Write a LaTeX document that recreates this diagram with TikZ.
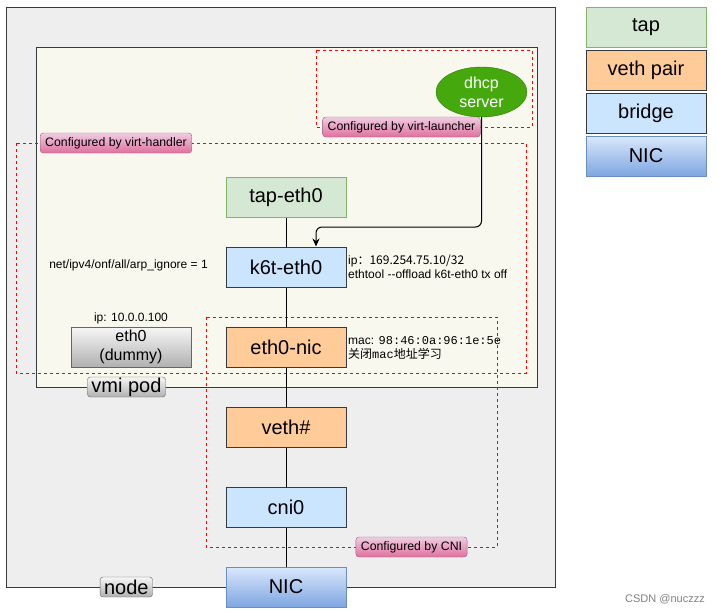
\documentclass[tikz,border=0pt]{standalone}
\usepackage{fontspec}
\setmainfont{Liberation Sans}
\setmonofont{Liberation Mono}
\newfontfamily\cjk{Noto Sans CJK SC}
\usetikzlibrary{arrows.meta,shapes.geometric}

\definecolor{nodebg}{HTML}{EEEEEE}
\definecolor{podbg}{HTML}{F9F8EE}
\definecolor{frame}{HTML}{36393D}
\definecolor{tapfill}{HTML}{D5E8D4}
\definecolor{tapline}{HTML}{82B366}
\definecolor{vethfill}{HTML}{FFCC99}
\definecolor{bridgefill}{HTML}{CCE5FF}
\definecolor{nictop}{HTML}{DAE8FC}
\definecolor{nicbot}{HTML}{7EA6E0}
\definecolor{nicline}{HTML}{6C8EBF}
\definecolor{tagtop}{HTML}{F0CDE2}
\definecolor{tagbot}{HTML}{E0709E}
\definecolor{tagline}{HTML}{996185}
\definecolor{graytop}{HTML}{F7F7F7}
\definecolor{graybot}{HTML}{B0B0B0}
\definecolor{grayline}{HTML}{666666}
\definecolor{dhcpfill}{HTML}{45A90D}
\definecolor{dhcpline}{HTML}{2D7600}

\tikzset{
  devbox/.style={minimum width=120pt, minimum height=40pt, inner sep=0pt,
    draw=frame, line width=1pt, font=\fontsize{20}{22}\selectfont},
  tapbox/.style={devbox, fill=tapfill, draw=tapline},
  vethbox/.style={devbox, fill=vethfill},
  bridgebox/.style={devbox, fill=bridgefill},
  nicbox/.style={devbox, top color=nictop, bottom color=nicbot, draw=nicline},
  cfgzone/.style={draw=red, line width=0.8pt, dash pattern=on 3pt off 3pt},
  cfgtag/.style={rounded corners=3pt, draw=tagline, top color=tagtop,
    bottom color=tagbot, minimum height=20pt, inner xsep=5pt, inner ysep=0pt,
    font=\fontsize{12.3}{14}\selectfont},
  graytag/.style={rounded corners=3pt, draw=grayline, top color=graytop,
    bottom color=graybot, minimum height=20pt, inner xsep=4pt, inner ysep=0pt,
    font=\fontsize{20}{20}\selectfont},
  notetext/.style={font=\fontsize{12}{14}\selectfont, align=left, inner sep=0pt},
}

\begin{document}
\begin{tikzpicture}[x=1pt,y=-1pt]
  \useasboundingbox (0,0) rectangle (716,613);

  % ------ node and vmi pod --------------
  \draw[frame, fill=nodebg, line width=1pt] (6,7) rectangle (555,587);
  \draw[frame, fill=podbg, line width=1pt] (36,47) rectangle (537,387);

  % ------ configured zones --------------
  \draw[cfgzone] (316,50) rectangle (532,127);
  \draw[cfgzone] (16,143) rectangle (526,373);
  \draw[cfgzone] (206,317) rectangle (497,547);

  % ------ devices --------------
  \node[tapbox]    (tap)  at (286,197) {tap-eth0};
  \node[bridgebox] (k6t)  at (286,267) {k6t-eth0};
  \node[vethbox]   (enic) at (286,347) {eth0-nic};
  \node[vethbox]   (veth) at (286,427) {veth\#};
  \node[bridgebox] (cni)  at (286,507) {cni0};
  \node[nicbox]    (nic)  at (286,587) {NIC};

  \node[ellipse, minimum width=91pt, minimum height=50pt, inner sep=0pt,
        fill=dhcpfill, draw=dhcpline, text=white, align=center,
        font=\fontsize{16}{19}\selectfont] (dhcp) at (481.5,92) {dhcp\\server};

  \node[devbox, draw=grayline, top color=graytop, bottom color=graybot,
        align=center, font=\fontsize{16}{19}\selectfont] (dummy) at (131,347)
        {eth0\\(dummy)};

  \draw[line width=1pt] (tap) -- (k6t) -- (enic) -- (veth) -- (cni) -- (nic);

  \coordinate (turn) at (481.5,227);
  \draw[line width=1pt, rounded corners=6pt, -{Stealth[length=8pt,width=7pt]}]
    (dhcp.south) -- (turn) -| ([xshift=30pt]k6t.north);

  % ------ notes --------------
  \node[notetext] (arp) at (128.5,265) {net/ipv4/onf/all/arp\_ignore = 1};
  \node[notetext] (dummyip) at (131,318) {ip: 10.0.0.100};
  \node[notetext, anchor=west] (k6tnote) at (348,267)
    {ip\cjk{：}169.254.75.10/32\\ethtool -{}-offload k6t-eth0 tx off};
  \node[notetext, anchor=west] (macnote) at (348,348)
    {mac: \texttt{98:46:0a:96:1e:5e}\\{\cjk 关闭}\texttt{mac}{\cjk 地址学习}};

  % ------ tags --------------
  \node[cfgtag] (tagvh)  at (116,143)   {Configured by virt-handler};
  \node[cfgtag] (tagvl)  at (401.5,127) {Configured by virt-launcher};
  \node[cfgtag] (tagcni) at (411.5,547) {Configured by CNI};
  \node[graytag] (podtag)  at (126.5,387) {vmi pod};
  \node[graytag] (nodetag) at (126.3,587) {node};

  % ------ legend --------------
  \node[tapbox]    (lgtap)    at (646,27)  {tap};
  \node[vethbox]   (lgveth)   at (646,70)  {veth pair};
  \node[bridgebox] (lgbridge) at (646,113) {bridge};
  \node[nicbox]    (lgnic)    at (646,156) {NIC};

  \node[text=gray, font=\fontsize{11}{13}\selectfont] (mark) at (665,599) {CSDN @nuczzz};
\end{tikzpicture}
\end{document}
